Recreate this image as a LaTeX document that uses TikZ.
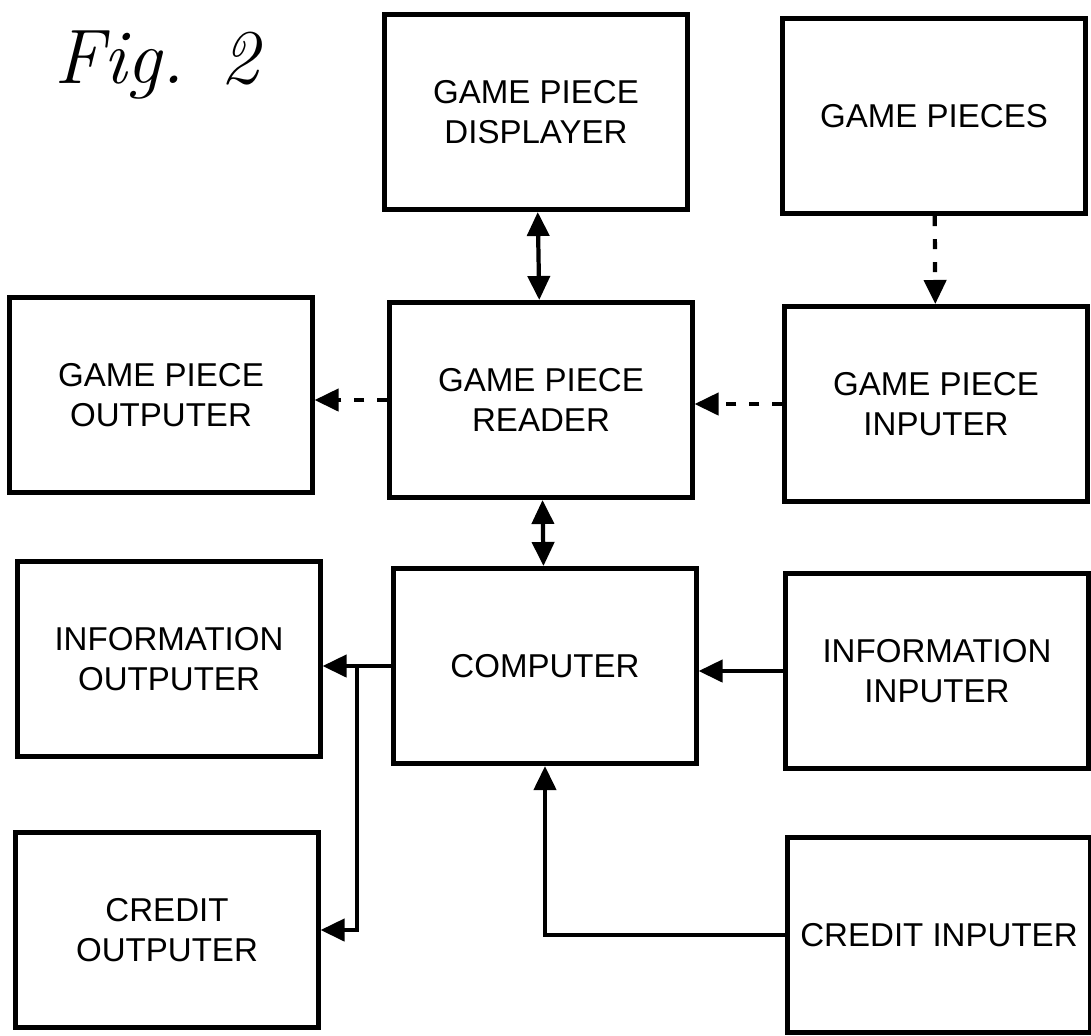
\documentclass[tikz,border=0pt]{standalone}
\usepackage{fontspec}
\setsansfont{Liberation Sans}
\usetikzlibrary{arrows.meta}

\begin{document}
\begin{tikzpicture}
  			[x=0.01cm,y=-0.01cm,
  			 box/.style={rectangle, draw, line width=1.4pt, minimum width=3.02cm, minimum height=1.95cm, inner sep=2pt, align=center, font=\sffamily\fontsize{9.4}{11.4}\selectfont},
  			 arr/.style={line width=1.2pt, -{Triangle[length=2.4mm,width=2.2mm]}},
  			 both/.style={arr, {Triangle[length=2.4mm,width=2.2mm]}-{Triangle[length=2.4mm,width=2.2mm]}},
  			 dots/.style={arr, dash pattern=on 1mm off 1.3mm}]
  			\useasboundingbox (0,0) rectangle (1091,1035);
  			\node[anchor=base, font=\itshape\fontsize{22}{26}\selectfont] (fig) at (157,83) {Fig. 2};
  			\node[box] (disp) at (536,112) {GAME PIECE\\DISPLAYER};
  			\node[box] (pieces) at (934,116) {GAME PIECES};
  			\node[box] (gout) at (161,395) {GAME PIECE\\OUTPUTER};
  			\node[box] (reader) at (541,400) {GAME PIECE\\READER};
			\node[box] (ginp) at (936,404) {GAME PIECE\\INPUTER};
			\node[box] (iout) at (169,659) {INFORMATION\\OUTPUTER};
			\node[box] (comp) at (545,666) {COMPUTER};
			\node[box] (iinp) at (937,671) {INFORMATION\\INPUTER};
			\node[box] (cout) at (167,930) {CREDIT\\OUTPUTER};
			\node[box] (cinp) at (939,935) {CREDIT INPUTER};
			\coordinate (tap) at (357,666);
		
  			\foreach \from/\to in {disp/reader,reader/comp}
    		\draw[both] (\from) -- (\to);
			\draw[dots] (pieces) -- (ginp);
			\draw[dots] (reader.west) -- (reader.west -| gout.east);
			\draw[dots] (ginp.west) -- (ginp.west -| reader.east);
			\draw[arr] (comp.west) -- (comp.west -| iout.east);
			\draw[arr] (tap) |- (cout.east);
			\draw[arr] (iinp.west) -- (iinp.west -| comp.east);
			\draw[arr] (cinp.west) -| (comp.south);
		\end{tikzpicture}
\end{document}
